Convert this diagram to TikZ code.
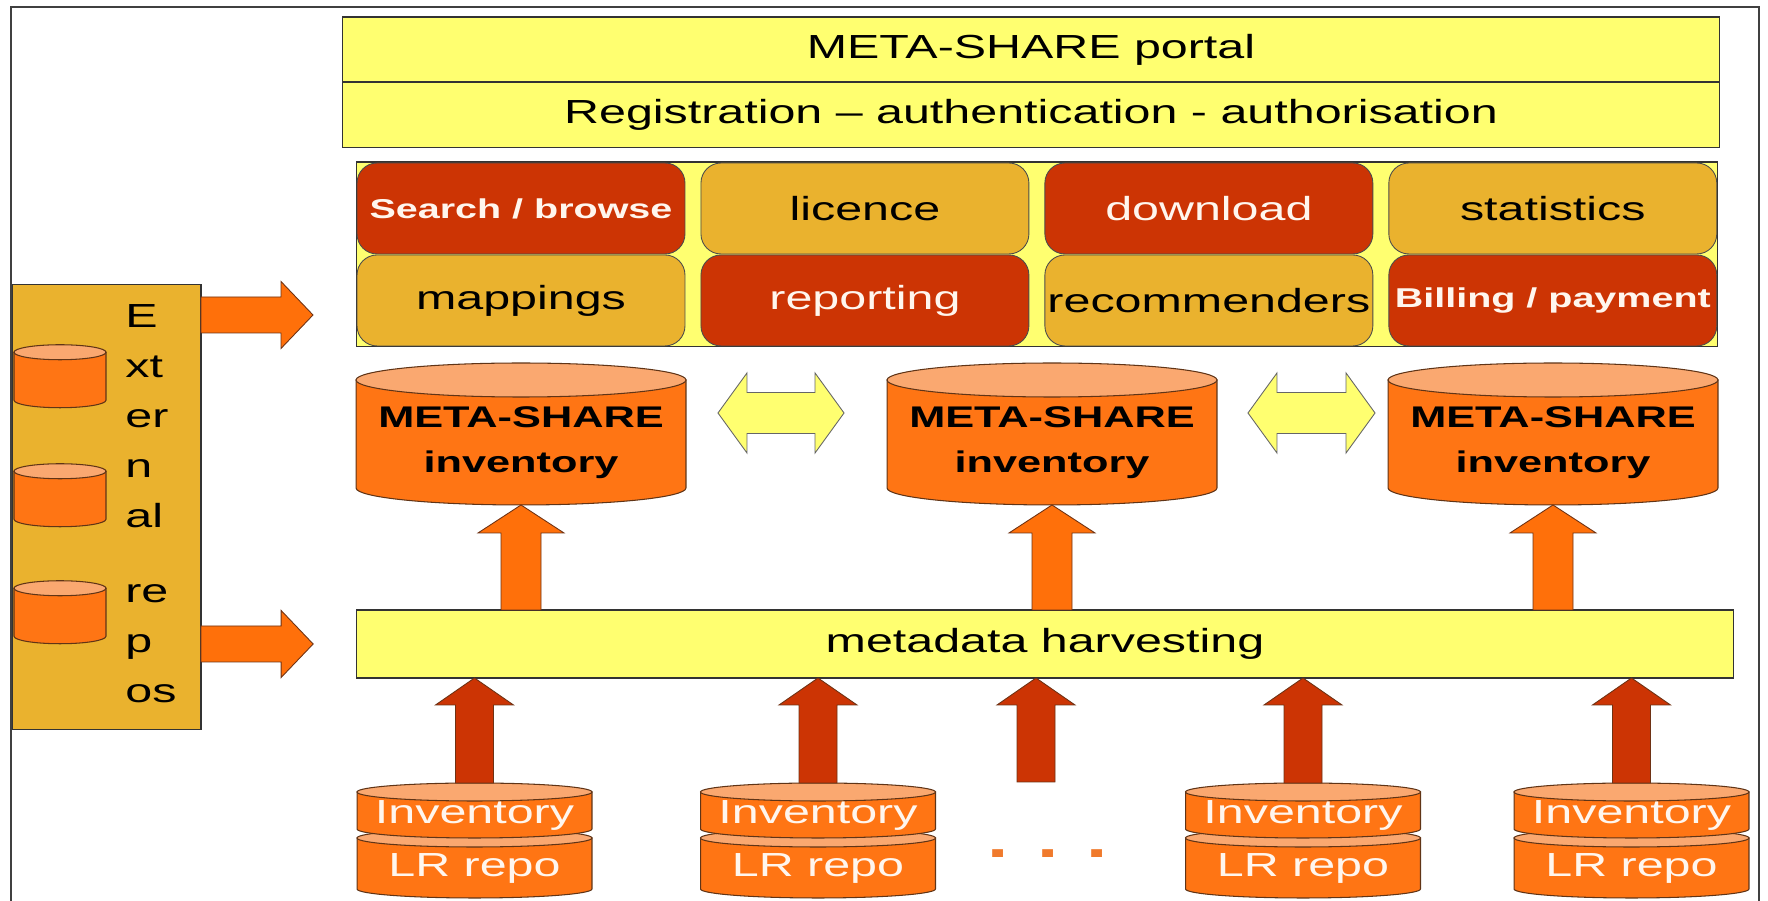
\documentclass[tikz,border=0pt]{standalone}
\usepackage{fontspec}
\setmainfont{Liberation Sans}[FakeStretch=1.45]
\usetikzlibrary{positioning,calc,backgrounds}

\definecolor{paleyellow}{RGB}{255,255,112}
\definecolor{cellgold}{RGB}{234,178,46}
\definecolor{celldark}{RGB}{204,52,4}
\definecolor{cylorange}{RGB}{255,117,20}
\definecolor{cyltop}{RGB}{250,168,112}
\definecolor{cylline}{RGB}{96,52,22}
\definecolor{fillorange}{RGB}{255,112,10}
\definecolor{arrowline}{RGB}{110,50,20}
\definecolor{dotorange}{RGB}{240,122,44}
\definecolor{softwhite}{RGB}{255,246,238}

\newcommand{\cyl}[5]{%
  \path[draw=cylline,line width=0.6pt,fill=#4] (#1.north west) -- ([yshift=#3]#1.south west)
    arc[start angle=180,end angle=360,x radius=#2,y radius=#3] -- (#1.north east) -- cycle;
  \path[draw=cylline,line width=0.6pt,fill=#5] (#1.north) ellipse[x radius=#2,y radius=#3];
}
\newcommand{\blockarrow}[6]{%
  \path ($(#3)!#6!(#2)$) coordinate (bah);
  \path[#1] ($(#2)!#4!90:(#3)$) -- ($(bah)!#4!-90:(#2)$) -- ($(bah)!#5!-90:(#2)$) -- (#3)
    -- ($(bah)!#5!90:(#2)$) -- ($(bah)!#4!90:(#2)$) -- ($(#2)!#4!-90:(#3)$) -- cycle;
}
\newcommand{\dblarrow}[6]{%
  \path ($(#2)!#6!(#3)$) coordinate (haa) ($(#3)!#6!(#2)$) coordinate (hbb);
  \path[#1] (#2) -- ($(haa)!#5!90:(#3)$) -- ($(haa)!#4!90:(#3)$) -- ($(hbb)!#4!-90:(#2)$)
    -- ($(hbb)!#5!-90:(#2)$) -- (#3) -- ($(hbb)!#5!90:(#2)$) -- ($(hbb)!#4!90:(#2)$)
    -- ($(haa)!#4!-90:(#3)$) -- ($(haa)!#5!-90:(#3)$) -- cycle;
}

\tikzset{
  framel/.style={draw=black!75,line width=0.8pt},
  portalbox/.style={draw=black!80,line width=0.6pt,fill=paleyellow,minimum width=27.56cm,
    minimum height=1.3cm,inner sep=0pt,outer sep=0pt,font=\fontsize{19}{23}\selectfont},
  servbox/.style={draw=black!80,line width=0.6pt,fill=paleyellow,minimum width=27.24cm,
    minimum height=3.7cm,inner sep=0pt,outer sep=0pt},
  cell/.style={draw=black!70,line width=0.5pt,rounded corners=0.4cm,minimum width=6.56cm,
    minimum height=1.82cm,inner sep=0pt,outer sep=0pt,font=\fontsize{19}{23}\selectfont},
  goldcell/.style={cell,fill=cellgold},
  redcell/.style={cell,fill=celldark,text=softwhite},
  boldcell/.style={font=\bfseries\fontsize{15.5}{19}\selectfont},
  mscyl/.style={minimum width=6.6cm,minimum height=2.5cm,inner sep=0pt,outer sep=0pt,
    align=center,font=\bfseries\fontsize{17}{25.6}\selectfont},
  lrtop/.style={minimum width=4.7cm,minimum height=0.92cm,inner sep=0pt,outer sep=0pt,
    text=softwhite,font=\fontsize{19}{23}\selectfont},
  lrbot/.style={lrtop,minimum height=1.2cm},
  extbox/.style={draw=black!80,line width=0.6pt,fill=cellgold,minimum width=3.78cm,
    minimum height=8.92cm,inner sep=0pt,outer sep=0pt},
  extcyl/.style={minimum width=1.84cm,minimum height=1.11cm,inner sep=0pt,outer sep=0pt},
  exttext/.style={align=left,inner sep=0pt,font=\fontsize{19}{28.5}\selectfont},
  dotsnode/.style={text=dotorange,inner sep=0pt,font=\bfseries\fontsize{30}{30}\selectfont},
  orangearrow/.style={draw=arrowline,line width=0.5pt,fill=fillorange},
  redarrow/.style={draw=arrowline,line width=0.5pt,fill=celldark},
  syncarrow/.style={draw=black!60,line width=0.5pt,fill=paleyellow}
}

\begin{document}
\begin{tikzpicture}[x=0.02cm,y=0.02cm]
  \useasboundingbox (0,0) rectangle (1768,901);
  \draw[framel] (11,-10) rectangle (1759,894);

  \node[portalbox] (portal) at (1031,851.5) {META-SHARE portal};
  \node[portalbox,minimum height=1.32cm,below=0cm of portal] (regauth) {Registration – authentication - authorisation};

  \node[servbox] (serv) at (1037,646.5) {};
  \node[redcell,boldcell] (search) at (521,692.5) {Search / browse};
  \node[goldcell,right=0.32cm of search] (licence) {licence};
  \node[redcell,right=0.32cm of licence] (download) {download};
  \node[goldcell,right=0.32cm of download] (stats) {statistics};
  \node[goldcell,below=0.02cm of search] (mappings) {mappings};
  \node[redcell,right=0.32cm of mappings] (reporting) {reporting};
  \node[goldcell,right=0.32cm of reporting] (recomm) {recommenders};
  \node[redcell,boldcell,right=0.32cm of recomm] (billing) {Billing / payment};

  \node[mscyl] (ms1) at (521,458.5) {META-SHARE\\inventory};
  \node[mscyl] (ms2) at (1052,458.5) {META-SHARE\\inventory};
  \node[mscyl] (ms3) at (1553,458.5) {META-SHARE\\inventory};

  \node[portalbox,minimum height=1.36cm] (harv) at (1045,257) {metadata harvesting};

  \node[extcyl] (erepo1) at (60,521) {};
  \node[extcyl] (erepo2) at (60,402) {};
  \node[extcyl] (erepo3) at (60,285) {};
  \node[exttext,anchor=west] (extlabel) at (125,397.5) {E\\xt\\er\\n\\al\\[14pt]re\\p\\os};

  \node[lrbot] (lr1) at (474.5,33) {LR repo};
  \node[lrbot] (lr2) at (818,33) {LR repo};
  \node[lrbot] (lr3) at (1303,33) {LR repo};
  \node[lrbot] (lr4) at (1631.5,33) {LR repo};
  \node[lrtop] (inv1) at (474.5,86) {Inventory};
  \node[lrtop] (inv2) at (818,86) {Inventory};
  \node[lrtop] (inv3) at (1303,86) {Inventory};
  \node[lrtop] (inv4) at (1631.5,86) {Inventory};
  \node[dotsnode] (dots) at (1048,47) {. . .};

  \begin{scope}[on background layer]
    \node[extbox] (ext) at (106.5,394) {};
    \foreach \k in {1,2,3} {\cyl{erepo\k}{0.92cm}{0.15cm}{cylorange}{cyltop}}
    \foreach \k in {1,2,3} {\cyl{ms\k}{3.3cm}{0.34cm}{cylorange}{cyltop}}
    \foreach \k in {1,...,4} {\cyl{lr\k}{2.35cm}{0.18cm}{cylorange}{cyltop}}
    \foreach \k in {1,...,4} {\cyl{inv\k}{2.35cm}{0.18cm}{cylorange}{cyltop}}
  \end{scope}

  \foreach \m in {ms1,ms2,ms3}
    \blockarrow{orangearrow}{\m |- harv.north}{\m.south}{0.4cm}{0.86cm}{0.56cm};

  \foreach \i in {inv1,inv2,inv3,inv4} {
    \coordinate (top\i) at ([yshift=0.18cm]\i.north);
    \blockarrow{redarrow}{top\i}{\i |- harv.south}{0.38cm}{0.78cm}{0.54cm}
  }
  \coordinate (gap) at (1036,119);
  \blockarrow{redarrow}{gap}{gap |- harv.south}{0.38cm}{0.78cm}{0.54cm};

  \coordinate (in1) at (313,586);
  \coordinate (in2) at ([xshift=-0.86cm]harv.west);
  \blockarrow{orangearrow}{ext.east |- in1}{in1}{0.36cm}{0.67cm}{0.64cm};
  \blockarrow{orangearrow}{ext.east |- in2}{in2}{0.36cm}{0.67cm}{0.64cm};

  \coordinate (sync1a) at ([shift={(32,29.5)}]ms1.east);
  \coordinate (sync1b) at ([shift={(-43,29.5)}]ms2.west);
  \coordinate (sync2a) at ([shift={(31,29.5)}]ms2.east);
  \coordinate (sync2b) at ([shift={(-13,29.5)}]ms3.west);
  \dblarrow{syncarrow}{sync1a}{sync1b}{0.41cm}{0.8cm}{0.58cm};
  \dblarrow{syncarrow}{sync2a}{sync2b}{0.41cm}{0.8cm}{0.58cm};
\end{tikzpicture}
\end{document}
